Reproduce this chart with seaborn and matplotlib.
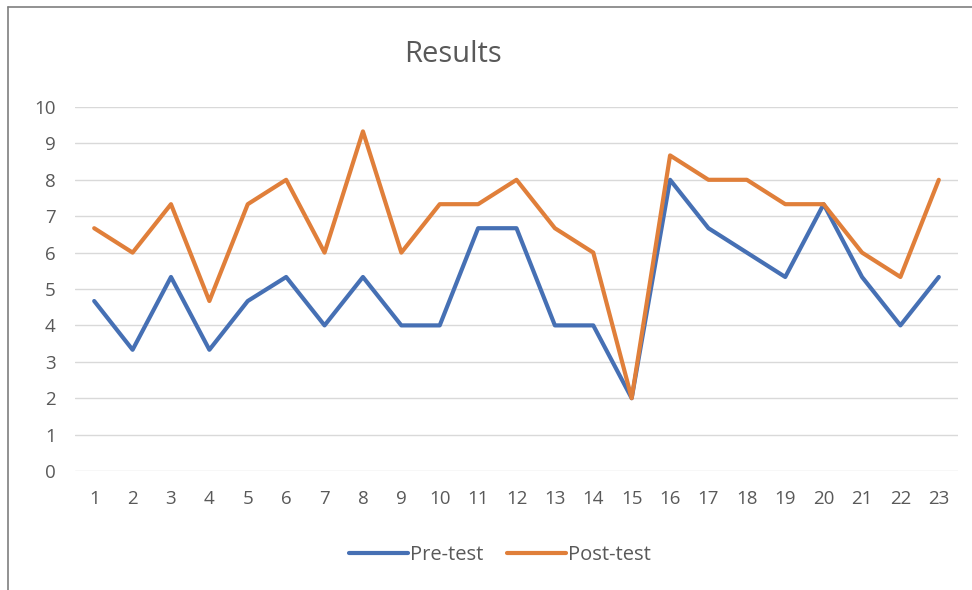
import pandas as pd
import seaborn as sns
import matplotlib.pyplot as plt
from matplotlib.lines import Line2D

# Scores per student
students = [str(i) for i in range(1, 24)]
pre_test = [4.67, 3.33, 5.33, 3.33, 4.67, 5.33, 4, 5.33, 4, 4, 6.67, 6.67,
            4, 4, 2, 8, 6.67, 6, 5.33, 7.33, 5.33, 4, 5.33]
post_test = [6.67, 6, 7.33, 4.67, 7.33, 8, 6, 9.33, 6, 7.33, 7.33, 8,
             6.67, 6, 2, 8.67, 8, 8, 7.33, 7.33, 6, 5.33, 8]
y_ticks = list(range(0, 11))

blue = '#4670B4'
orange = '#E07F3A'

df = pd.DataFrame({'Student': students, 'Pre-test': pre_test, 'Post-test': post_test})
long_df = df.melt(id_vars='Student', var_name='Test', value_name='Score')

sns.set_style('white')
plt.rcParams['font.family'] = ['Open Sans', 'DejaVu Sans']

fig = plt.figure(figsize=(9.72, 5.90), dpi=100)
ax = fig.add_axes([75 / 972, 1 - 471 / 590, (958 - 75) / 972, (471 - 107) / 590])

sns.lineplot(data=long_df, x='Student', y='Score', hue='Test', sort=False,
             palette={'Pre-test': blue, 'Post-test': orange},
             linewidth=3.0, ax=ax, legend=False)

ax.set_ylim(0, 10)
ax.set_xlim(-0.5, len(students) - 0.5)
ax.set_yticks(y_ticks)
ax.yaxis.grid(True, color='#D9D9D9', linewidth=1)
ax.set_axisbelow(True)
for side in ['top', 'right', 'left', 'bottom']:
    ax.spines[side].set_visible(False)
ax.tick_params(axis='both', length=0, labelsize=13.5, labelcolor='#595959')
ax.tick_params(axis='x', pad=14)
ax.tick_params(axis='y', pad=14)
ax.set_xlabel('')
ax.set_ylabel('')

fig.text(453 / 972, 1 - 54 / 590, 'Results', ha='center', va='center',
         fontsize=21, color='#595959')

# legend below the chart
handles = [Line2D([], [], color=blue, linewidth=3.0),
           Line2D([], [], color=orange, linewidth=3.0)]
fig.legend(handles, ['Pre-test', 'Post-test'], loc='center',
           bbox_to_anchor=(500 / 972, 1 - 555 / 590), ncol=2, frameon=False,
           fontsize=14.5, labelcolor='#595959', handlelength=2.9,
           handletextpad=0.1, columnspacing=1.2)

# chart border (left and top edges visible in the picture)
fig.add_artist(Line2D([8 / 972, 8 / 972], [0, 1 - 7 / 590], color='#7F7F7F', linewidth=1.2))
fig.add_artist(Line2D([8 / 972, 1], [1 - 7 / 590, 1 - 7 / 590], color='#7F7F7F', linewidth=1.2))

fig.savefig('out.png', dpi=100)
